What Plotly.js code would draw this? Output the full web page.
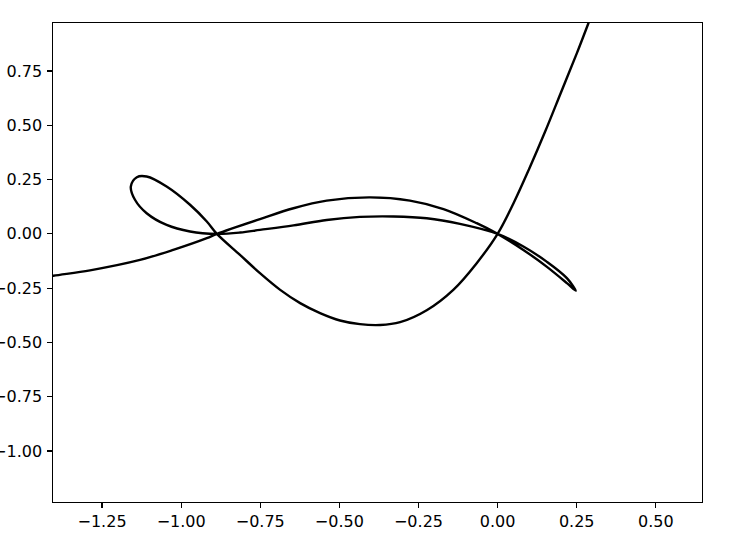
<!DOCTYPE html>
<html>
<head>
<meta charset="utf-8">
<script src="https://cdn.plot.ly/plotly-3.0.1.min.js"></script>
<style>
	body { margin: 0; background: #fff; }
	#chart { width: 730px; height: 547px; }
</style>
</head>
<body>
<div id="chart"></div>
<script>
// curve, in the order it is traced
const leftArmX = [-1.45, -1.404, -1.288, -1.130, -1.025, -0.919, -0.887];
const leftArmY = [-0.205, -0.193, -0.168, -0.120, -0.074, -0.020, 0.0];

const upperHumpX = [-0.751, -0.645, -0.540, -0.403, -0.277, -0.171, -0.066, 0.0];
const upperHumpY = [0.068, 0.118, 0.153, 0.168, 0.153, 0.114, 0.049, 0.0];

const tipLoopX = [0.0815, 0.155, 0.219, 0.247, 0.219, 0.155, 0.0815, 0.0];
const tipLoopY = [-0.074, -0.151, -0.227, -0.262, -0.204, -0.128, -0.058, 0.0];

const lowerHumpX = [-0.119, -0.224, -0.329, -0.435, -0.540, -0.645, -0.751, -0.814, -0.887];
const lowerHumpY = [0.046, 0.072, 0.080, 0.078, 0.064, 0.039, 0.018, 0.006, 0.0];

const leftLoopX = [-0.972, -1.046, -1.109, -1.146, -1.159, -1.140, -1.109, -1.046, -0.972, -0.919, -0.887];
const leftLoopY = [0.011, 0.041, 0.095, 0.157, 0.218, 0.261, 0.264, 0.218, 0.134, 0.057, 0.0];

const valleyX = [-0.814, -0.751, -0.687, -0.624, -0.561, -0.498, -0.435, -0.371, -0.308, -0.224, -0.140, -0.066, 0.0];
const valleyY = [-0.097, -0.181, -0.258, -0.319, -0.365, -0.399, -0.416, -0.420, -0.407, -0.352, -0.258, -0.135, 0.0];

const rightArmX = [0.05, 0.10, 0.15, 0.20, 0.25, 0.287, 0.31];
const rightArmY = [0.14, 0.30, 0.47, 0.65, 0.83, 0.97, 1.06];

const xs = [].concat(leftArmX, upperHumpX, tipLoopX, lowerHumpX, leftLoopX, valleyX, rightArmX);
const ys = [].concat(leftArmY, upperHumpY, tipLoopY, lowerHumpY, leftLoopY, valleyY, rightArmY);

const axisStyle = {
	showgrid: false,
	zeroline: false,
	showline: true,
	mirror: true,
	linecolor: '#000',
	linewidth: 1.2,
	ticks: 'outside',
	ticklen: 4.5,
	tickwidth: 1.2,
	tickcolor: '#000',
	tick0: 0,
	dtick: 0.25,
	tickformat: '.2f',
	tickfont: {family: 'DejaVu Sans', size: 16, color: '#000'}
};

const data = [{
	x: xs,
	y: ys,
	type: 'scatter',
	mode: 'lines',
	line: {color: '#000', width: 2.4, shape: 'spline', smoothing: 1},
	hoverinfo: 'skip'
}];

const layout = {
	width: 730,
	height: 547,
	margin: {l: 53, r: 28, t: 23, b: 45},
	paper_bgcolor: '#fff',
	plot_bgcolor: '#fff',
	showlegend: false,
	xaxis: Object.assign({}, axisStyle, {range: [-1.405, 0.646]}),
	yaxis: Object.assign({}, axisStyle, {range: [-1.235, 0.971], ticklabelstandoff: 2})
};

Plotly.newPlot('chart', data, layout, {displayModeBar: false, staticPlot: true});
</script>
</body>
</html>
